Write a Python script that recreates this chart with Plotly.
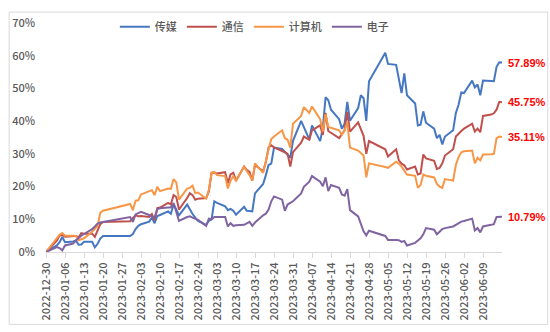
import plotly.graph_objects as go

dates = [
    "2022-12-30",
    "2023-01-03", "2023-01-04", "2023-01-05", "2023-01-06",
    "2023-01-09", "2023-01-10", "2023-01-11", "2023-01-12", "2023-01-13",
    "2023-01-16", "2023-01-17", "2023-01-18", "2023-01-19", "2023-01-20",
    "2023-01-30", "2023-01-31", "2023-02-01", "2023-02-02", "2023-02-03",
    "2023-02-06", "2023-02-07", "2023-02-08", "2023-02-09", "2023-02-10",
    "2023-02-13", "2023-02-14", "2023-02-15", "2023-02-16", "2023-02-17",
    "2023-02-20", "2023-02-21", "2023-02-22", "2023-02-23", "2023-02-24",
    "2023-02-27", "2023-02-28", "2023-03-01", "2023-03-02", "2023-03-03",
    "2023-03-06", "2023-03-07", "2023-03-08", "2023-03-09", "2023-03-10",
    "2023-03-13", "2023-03-14", "2023-03-15", "2023-03-16", "2023-03-17",
    "2023-03-20", "2023-03-21", "2023-03-22", "2023-03-23", "2023-03-24",
    "2023-03-27", "2023-03-28", "2023-03-29", "2023-03-30", "2023-03-31",
    "2023-04-03", "2023-04-04", "2023-04-06", "2023-04-07",
    "2023-04-10", "2023-04-11", "2023-04-12", "2023-04-13", "2023-04-14",
    "2023-04-17", "2023-04-18", "2023-04-19", "2023-04-20", "2023-04-21",
    "2023-04-24", "2023-04-25", "2023-04-26", "2023-04-27", "2023-04-28",
    "2023-05-04", "2023-05-05",
    "2023-05-08", "2023-05-09", "2023-05-10", "2023-05-11", "2023-05-12",
    "2023-05-15", "2023-05-16", "2023-05-17", "2023-05-18", "2023-05-19",
    "2023-05-22", "2023-05-23", "2023-05-24", "2023-05-25", "2023-05-26",
    "2023-05-29", "2023-05-30", "2023-05-31", "2023-06-01", "2023-06-02",
    "2023-06-05", "2023-06-06", "2023-06-07", "2023-06-08", "2023-06-09",
    "2023-06-12", "2023-06-13", "2023-06-14", "2023-06-15", "2023-06-16",
]

media = [
    0.0,
    2.0, 3.0, 4.6, 3.0,
    3.2, 3.5, 2.2, 2.3, 3.1,
    3.1, 1.4, 2.5, 4.1, 4.9,
    4.9, 5.5, 7.0, 8.0, 8.5,
    9.3, 10.5, 8.8, 11.0, 11.3,
    12.4, 11.7, 14.5, 13.0, 11.2,
    14.5, 13.0, 11.6, 10.5, 9.5,
    8.3, 9.5, 10.0, 15.5, 15.0,
    14.0, 12.8, 13.2, 12.6, 11.4,
    13.8, 12.6, 12.5, 12.4, 17.9,
    20.8, 23.5, 26.6, 27.0, 31.9,
    31.5, 30.5, 29.5, 28.8, 34.0,
    40.1, 38.2, 34.4, 38.7,
    33.9, 38.0, 47.3, 46.4, 43.5,
    40.6, 37.7, 39.2, 45.9, 40.1,
    44.0, 47.9, 47.0, 40.1, 52.2,
    60.9, 57.5,
    57.2, 52.7, 48.6, 54.6, 47.9,
    45.4, 38.7, 38.9, 43.0, 39.5,
    37.7, 34.8, 35.8, 32.9, 35.3,
    37.2, 42.5, 45.0, 48.8, 48.6,
    52.4, 50.3, 51.2, 47.9, 52.4,
    52.3, 52.2, 56.6, 58.0, 57.89,
]

telecom = [
    0.0,
    3.5, 5.0, 5.2, 4.7,
    4.8, 4.9, 4.5, 5.8, 5.6,
    5.6, 4.6, 6.5, 8.5, 9.2,
    9.4, 10.4, 11.2, 10.9, 11.0,
    10.7, 11.6, 9.7, 13.4, 13.6,
    15.0, 14.5, 17.4, 16.8, 13.0,
    16.5, 18.0, 17.4, 16.0, 16.3,
    16.5, 18.5, 24.2, 24.2, 24.0,
    24.4, 21.0, 23.7, 24.2, 21.8,
    26.1, 25.0, 24.5, 21.8, 26.6,
    24.7, 27.5, 31.9, 32.6, 32.0,
    31.0, 30.5, 30.0, 26.1, 30.5,
    33.4, 35.3, 34.3, 37.2,
    38.7, 35.8, 42.5, 37.0, 36.5,
    34.8, 36.0, 37.2, 42.8, 36.8,
    39.6, 37.5, 35.5, 30.0, 33.9,
    31.4, 29.2,
    31.4, 28.0, 27.0, 26.5, 25.2,
    26.1, 23.7, 24.0, 29.8, 28.6,
    27.9, 25.4, 25.7, 27.1, 29.5,
    31.4, 35.3, 36.3, 37.0, 37.7,
    39.2, 36.8, 37.7, 36.6, 41.6,
    42.0, 42.4, 43.5, 45.9, 45.75,
]

computer = [
    0.0,
    4.0, 5.3, 5.8, 5.0,
    5.0, 4.9, 3.6, 3.8, 4.2,
    6.2, 7.0, 8.0, 12.0, 12.6,
    14.7, 12.8, 15.7, 15.8, 17.6,
    18.4, 18.9, 17.4, 19.9, 18.6,
    19.4, 19.3, 22.3, 21.3, 16.0,
    19.4, 19.6, 20.3, 18.0, 18.2,
    16.3, 19.0, 24.2, 24.5, 23.5,
    23.2, 19.4, 21.8, 23.2, 21.8,
    26.1, 24.7, 23.5, 21.8, 27.1,
    24.2, 28.0, 31.4, 34.5, 35.3,
    37.2, 34.8, 34.3, 31.9, 39.2,
    41.6, 44.3, 42.5, 44.5,
    40.6, 36.8, 42.1, 38.2, 38.0,
    37.2, 35.8, 37.2, 39.6, 31.9,
    31.0, 30.2, 29.5, 22.8, 27.1,
    26.0, 25.7,
    27.6, 27.0, 26.1, 25.0, 23.7,
    23.3, 19.6, 20.5, 23.7, 23.3,
    22.8, 20.8, 20.0, 19.6, 22.3,
    21.8, 26.6, 29.0, 30.5, 30.8,
    31.0, 27.1, 28.8, 28.0, 29.8,
    29.9, 30.0, 34.8, 35.3, 35.11,
]

electronics = [
    0.0,
    1.5, 1.2, 0.5, 2.0,
    2.6, 3.5, 4.3, 5.0, 5.5,
    7.0, 7.8, 8.7, 9.0, 9.2,
    10.7, 9.2, 11.5, 12.0, 12.3,
    11.3, 11.0, 10.5, 13.0, 13.4,
    13.6, 13.6, 15.0, 12.0, 9.5,
    10.7, 10.9, 10.5, 10.2, 9.8,
    8.0, 10.2, 10.0, 10.7, 10.7,
    10.7, 7.8, 8.8, 8.0, 8.2,
    8.3, 8.8, 9.2, 8.0, 9.0,
    11.2, 11.7, 13.0, 15.5, 17.0,
    16.0, 12.6, 14.5, 15.0, 15.5,
    17.9, 19.9, 21.5, 23.2,
    21.5, 20.1, 22.8, 18.6, 20.5,
    19.6, 17.6, 17.2, 19.2, 12.8,
    10.9, 8.7, 6.3, 5.1, 6.5,
    4.9, 3.7,
    3.7, 3.6, 3.1, 3.4, 2.0,
    2.8, 3.5, 4.2, 5.4, 7.3,
    6.8, 5.4, 6.2, 7.0, 7.3,
    7.8, 8.3, 8.8, 9.3, 9.5,
    10.2, 6.6, 7.3, 6.0, 7.8,
    8.3, 8.5, 10.7, 10.8, 10.79,
]

series_names = ["传媒", "通信", "计算机", "电子"]
series_values = [media, telecom, computer, electronics]
series_colors = ["#4677C2", "#C0504D", "#F79646", "#8064A2"]

tick_dates = [
    "2022-12-30", "2023-01-06", "2023-01-13", "2023-01-20", "2023-01-27",
    "2023-02-03", "2023-02-10", "2023-02-17", "2023-02-24", "2023-03-03",
    "2023-03-10", "2023-03-17", "2023-03-24", "2023-03-31", "2023-04-07",
    "2023-04-14", "2023-04-21", "2023-04-28", "2023-05-05", "2023-05-12",
    "2023-05-19", "2023-05-26", "2023-06-02", "2023-06-09",
]
y_ticks = [0, 10, 20, 30, 40, 50, 60, 70]
y_tick_text = ["0%", "10%", "20%", "30%", "40%", "50%", "60%", "70%"]

W, H = 550, 332
ML, MR, MT, MB = 38, 48, 12, 78
PW, PH = W - ML - MR, H - MT - MB

FONT = "Noto Sans CJK SC, Microsoft YaHei, sans-serif"

fig = go.Figure()
for name, vals, col in zip(series_names, series_values, series_colors):
    fig.add_trace(go.Scatter(
        x=dates, y=vals, name=name, mode="lines",
        line=dict(color=col, width=2),
    ))

annotations = []
for vals in series_values:
    annotations.append(dict(
        x=dates[-1], y=vals[-1], xref="x", yref="y",
        text=f"{vals[-1]:.2f}%", showarrow=False,
        xanchor="left", yanchor="middle", xshift=4,
        font=dict(family="Liberation Sans, Arial", size=11, color="#FF0000", weight="bold"),
    ))

def px_to_paper_x(px):
    return (px - ML) / PW

def px_to_paper_y(py):
    return 1 - (py - MT) / PH

fig.update_layout(
    width=W, height=H,
    margin=dict(l=ML, r=MR, t=MT, b=MB),
    paper_bgcolor="white", plot_bgcolor="white",
    font=dict(family=FONT, size=11, color="#595959", weight=500),
    showlegend=True,
    legend=dict(
        orientation="h", x=px_to_paper_x(250), xanchor="center",
        y=px_to_paper_y(16), yanchor="middle",
        font=dict(family=FONT, size=11, color="#595959", weight=500),
        bgcolor="rgba(0,0,0,0)", itemwidth=30, tracegroupgap=0,
    ),
    xaxis=dict(
        type="date",
        range=["2022-12-30", "2023-06-16"],
        tickvals=tick_dates, ticktext=tick_dates,
        tickangle=-90,
        showgrid=False, zeroline=False,
        showline=True, linecolor="#D9D9D9", linewidth=1,
        ticks="outside", ticklen=5, tickcolor="#D9D9D9", tickwidth=1,
        tickfont=dict(family=FONT, size=11, color="#595959", weight=500),
    ),
    yaxis=dict(
        range=[0, 70],
        tickvals=y_ticks, ticktext=y_tick_text,
        showgrid=False, zeroline=False, showline=False,
        ticks="", ticklabelstandoff=10,
        tickfont=dict(family=FONT, size=11, color="#595959", weight=500),
    ),
    annotations=annotations,
    shapes=[dict(
        type="rect", xref="paper", yref="paper",
        x0=px_to_paper_x(0.5), x1=px_to_paper_x(548.5),
        y0=px_to_paper_y(330.5), y1=px_to_paper_y(0.5),
        line=dict(color="#D9D9D9", width=1), layer="below",
    )],
)

fig.write_html("out.html")
